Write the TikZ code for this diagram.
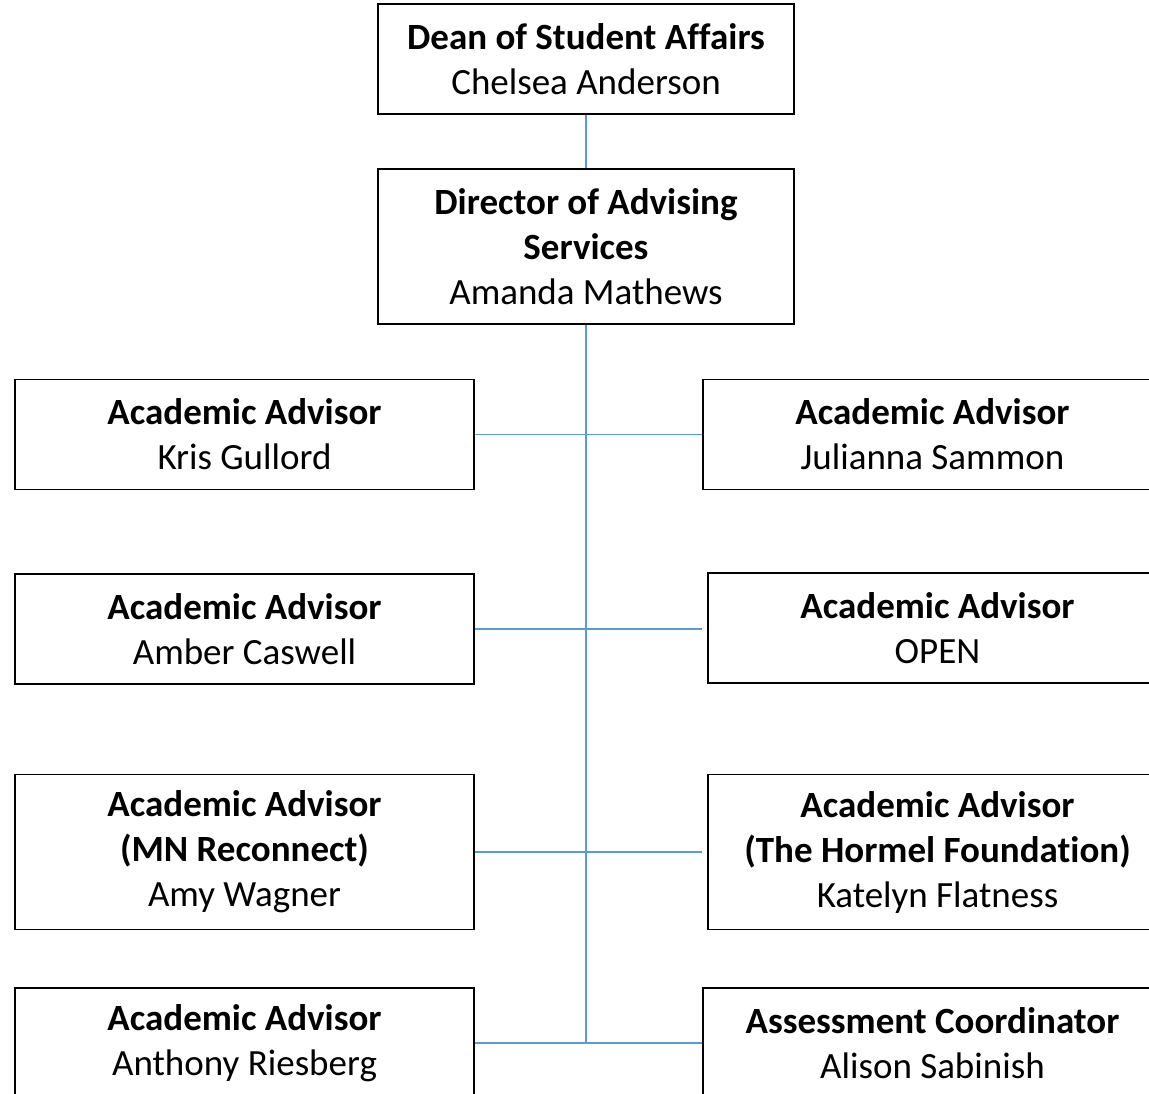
\documentclass[tikz,border=0pt]{standalone}
\usepackage{fontspec}
\setmainfont{Carlito}[Ligatures={NoCommon}]
\definecolor{conn}{HTML}{5B9BD5}
\tikzset{
  box/.style={draw=black, line width=1.5pt, fill=white, align=center, inner sep=0pt,
    font=\fontsize{37}{45}\selectfont, minimum height=110pt},
  topbox/.style={minimum width=416pt},
  sidebox/.style={minimum width=459pt},
  tallbox/.style={minimum height=155pt},
  link/.style={draw=conn, line width=1.5pt}
}
\begin{document}
\begin{tikzpicture}[x=1pt,y=-1pt]
\useasboundingbox (0,0) rectangle (1149,1094);
\clip (0,0) rectangle (1149,1094);
\fill[white] (0,0) rectangle (1149,1094);
\node[box,topbox] (dean) at (586,59) {\textbf{Dean of Student Affairs}\\Chelsea Anderson};
\node[box,topbox,tallbox] (dir) at (586,246.5) {\textbf{Director of Advising}\\\textbf{Services}\\Amanda Mathews};
\node[box,sidebox] (l1) at (244.5,434.5) {\textbf{Academic Advisor}\\Kris Gullord};
\node[box,sidebox] (r1) at (932.5,434.5) {\textbf{Academic Advisor}\\Julianna Sammon};
\node[box,sidebox] (l2) at (244.5,629) {\textbf{Academic Advisor}\\Amber Caswell};
\node[box,sidebox] (r2) at (937.5,628) {\textbf{Academic Advisor}\\OPEN};
\node[box,sidebox,tallbox] (l3) at (244.5,852) {\textbf{Academic Advisor}\\\textbf{(MN Reconnect)}\\Amy Wagner};
\node[box,sidebox,tallbox] (r3) at (937.5,852) {\textbf{Academic Advisor}\\\textbf{(The Hormel Foundation)}\\Katelyn Flatness};
\node[box,sidebox] (l4) at (244.5,1043) {\textbf{Academic Advisor}\\Anthony Riesberg};
\node[box,sidebox] (r4) at (932.5,1043) {\textbf{Assessment Coordinator}\\Alison Sabinish};
\coordinate (jn) at (dir.south |- l4.east);
\draw[link] (dean.south) -- (dir.north);
\draw[link] (dir.south) -- (jn);
\draw[link] (l1.east) -- (r1.west);
\draw[link] (l2.east) -- (l2.east -| r1.west);
\draw[link] (l3.east) -- (l3.east -| r1.west);
\draw[link] (l4.east) -- (r4.west);
\end{tikzpicture}
\end{document}
